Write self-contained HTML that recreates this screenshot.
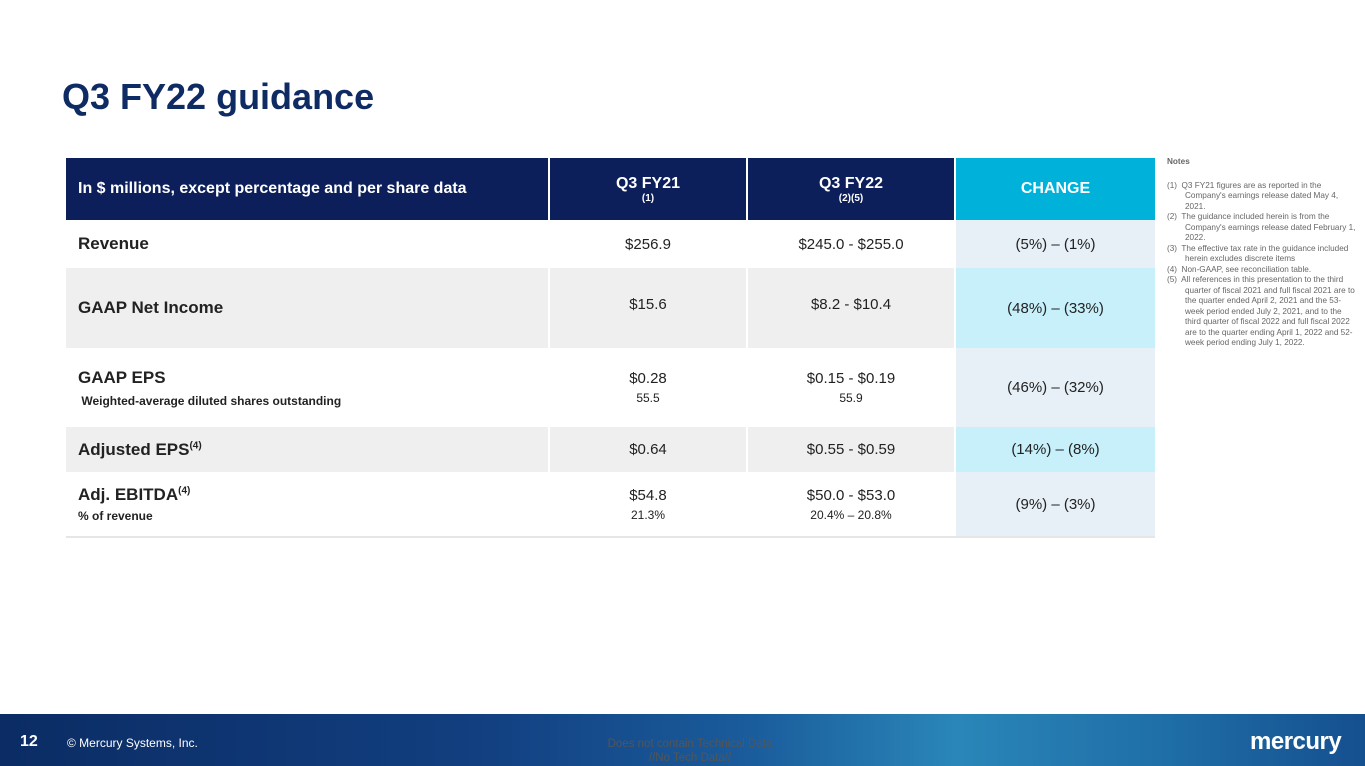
<!DOCTYPE html>
<html><head><meta charset="utf-8"><style>
body{margin:0;width:1365px;height:766px;position:relative;overflow:hidden;background:#fff;font-family:"Liberation Sans",sans-serif;}
.a{position:absolute;box-sizing:border-box;}
.c{display:flex;flex-direction:column;justify-content:center;align-items:center;text-align:center;color:#222;font-size:15px;}
.l{display:flex;flex-direction:column;justify-content:center;padding-left:12px;color:#222;font-size:17px;font-weight:bold;}
.sm{font-size:12px;margin-top:4px;}
sup{font-size:10px;}
.h{background:#0c1f5a;color:#fff;font-weight:bold;font-size:16px;}
</style></head><body>
<div class="a" style="left:62px;top:76px;font-size:36px;font-weight:bold;color:#0f2b63;">Q3 FY22 guidance</div>

<div>
<div class="a l h" style="left:66px;top:158px;width:482px;height:62px;font-size:16px;">In $ millions, except percentage and per share data</div>
<div class="a c h" style="left:550px;top:158px;width:196px;height:62px;">Q3 FY21<sup>(1)</sup></div>
<div class="a c h" style="left:748px;top:158px;width:206px;height:62px;">Q3 FY22<sup>(2)(5)</sup></div>
<div class="a c" style="left:956px;top:158px;width:199px;height:62px;background:#00b2da;color:#fff;font-weight:bold;font-size:16px;">CHANGE</div>

<div class="a" style="left:66px;top:268px;width:888px;height:80px;background:#f0eff0;"></div>
<div class="a" style="left:66px;top:427px;width:888px;height:45px;background:#f0eff0;"></div>
<div class="a" style="left:548px;top:220px;width:2px;height:317px;background:#fff;"></div>
<div class="a" style="left:746px;top:220px;width:2px;height:317px;background:#fff;"></div>
<div class="a" style="left:66px;top:536px;width:1089px;height:2px;background:#e6e6e6;"></div>

<div class="a l" style="left:66px;top:220px;width:480px;height:48px;">Revenue</div>
<div class="a c" style="left:550px;top:220px;width:196px;height:48px;">$256.9</div>
<div class="a c" style="left:748px;top:220px;width:206px;height:48px;">$245.0 - $255.0</div>
<div class="a c" style="left:956px;top:220px;width:199px;height:48px;background:#e6f0f6;">(5%) – (1%)</div>

<div class="a l" style="left:66px;top:268px;width:480px;height:80px;">GAAP Net Income</div>
<div class="a c" style="left:550px;top:268px;width:196px;height:80px;padding-bottom:8px;">$15.6</div>
<div class="a c" style="left:748px;top:268px;width:206px;height:80px;padding-bottom:8px;">$8.2 - $10.4</div>
<div class="a c" style="left:956px;top:268px;width:199px;height:80px;background:#c7f0fa;">(48%) – (33%)</div>

<div class="a l" style="left:66px;top:348px;width:480px;height:79px;">GAAP EPS<div style="font-size:12px;margin-top:6px;">&nbsp;Weighted-average diluted shares outstanding</div></div>
<div class="a c" style="left:550px;top:348px;width:196px;height:79px;">$0.28<div class="sm">55.5</div></div>
<div class="a c" style="left:748px;top:348px;width:206px;height:79px;">$0.15 - $0.19<div class="sm">55.9</div></div>
<div class="a c" style="left:956px;top:348px;width:199px;height:79px;background:#e6f0f6;">(46%) – (32%)</div>

<div class="a l" style="left:66px;top:427px;width:480px;height:45px;"><span>Adjusted EPS<sup>(4)</sup></span></div>
<div class="a c" style="left:550px;top:427px;width:196px;height:45px;">$0.64</div>
<div class="a c" style="left:748px;top:427px;width:206px;height:45px;">$0.55 - $0.59</div>
<div class="a c" style="left:956px;top:427px;width:199px;height:45px;background:#c7f0fa;">(14%) – (8%)</div>

<div class="a l" style="left:66px;top:472px;width:480px;height:64px;"><span>Adj. EBITDA<sup>(4)</sup></span><div style="font-size:12px;margin-top:4px;">% of revenue</div></div>
<div class="a c" style="left:550px;top:472px;width:196px;height:64px;">$54.8<div class="sm">21.3%</div></div>
<div class="a c" style="left:748px;top:472px;width:206px;height:64px;">$50.0 - $53.0<div class="sm">20.4% – 20.8%</div></div>
<div class="a c" style="left:956px;top:472px;width:199px;height:64px;background:#e6f0f6;">(9%) – (3%)</div>
</div>

<div class="a" style="left:1167px;top:157px;width:190px;font-size:8.2px;line-height:10.5px;color:#666;">
<div style="font-weight:bold;margin-bottom:13px;">Notes</div>
<div style="padding-left:18px;text-indent:-18px;">(1)&nbsp; Q3 FY21 figures are as reported in the Company's earnings release dated May 4, 2021.</div>
<div style="padding-left:18px;text-indent:-18px;">(2)&nbsp; The guidance included herein is from the Company's earnings release dated February 1, 2022.</div>
<div style="padding-left:18px;text-indent:-18px;">(3)&nbsp; The effective tax rate in the guidance included herein excludes discrete items</div>
<div style="padding-left:18px;text-indent:-18px;">(4)&nbsp; Non-GAAP, see reconciliation table.</div>
<div style="padding-left:18px;text-indent:-18px;">(5)&nbsp; All references in this presentation to the third quarter of fiscal 2021 and full fiscal 2021 are to the quarter ended April 2, 2021 and the 53-week period ended July 2, 2021, and to the third quarter of fiscal 2022 and full fiscal 2022 are to the quarter ending April 1, 2022 and 52-week period ending July 1, 2022.</div>
</div>

<div class="a" style="left:0;top:714px;width:1365px;height:52px;background:linear-gradient(90deg,#0b2c64 0%,#123f80 35%,#1a5c9c 55%,#2a86b8 70%,#1f6fa8 85%,#154f8f 100%);"></div>
<div class="a" style="left:20px;top:733px;color:#fff;font-weight:bold;font-size:16px;">12</div>
<div class="a" style="left:67px;top:736px;color:#fff;font-size:12px;">© Mercury Systems, Inc.</div>
<div class="a" style="left:560px;top:737px;width:260px;text-align:center;color:#555;font-size:11.5px;line-height:14px;">Does not contain Technical Data<br>//No Tech Data//</div>
<div class="a" style="left:1250px;top:728px;color:#fff;font-weight:bold;font-size:24px;letter-spacing:-0.5px;">mercury</div>
</body></html>
